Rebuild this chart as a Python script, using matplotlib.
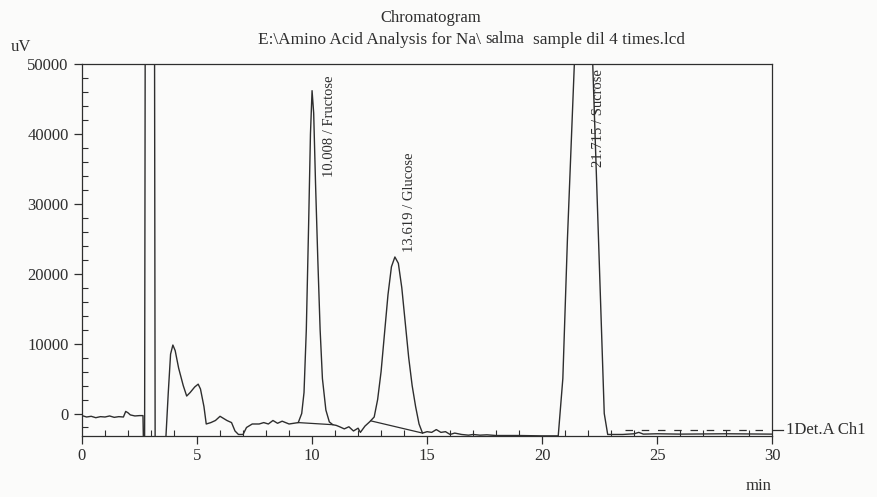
import numpy as np
import matplotlib.pyplot as plt

# detector trace (min, uV)
t = [0.0, 0.2, 0.4, 0.6, 0.8, 1.0, 1.2, 1.4, 1.6, 1.8, 1.9, 2.0, 2.1, 2.3, 2.5, 2.65,
     2.68, 2.72, 2.75, 3.15, 3.18, 3.6, 3.65, 3.75, 3.85, 3.95, 4.05, 4.2, 4.4, 4.55,
     4.7, 4.9, 5.05, 5.15, 5.3, 5.4, 5.6, 5.8, 6.0, 6.15, 6.3, 6.5, 6.65, 6.8, 7.0,
     7.15, 7.4, 7.7, 7.9, 8.1, 8.3, 8.5, 8.7, 9.0, 9.2, 9.4, 9.55, 9.65, 9.75, 9.85,
     9.93, 10.0, 10.07, 10.15, 10.25, 10.35, 10.45, 10.6, 10.75, 10.9, 11.05, 11.2,
     11.4, 11.6, 11.8, 12.0, 12.1, 12.3, 12.5, 12.7, 12.85, 13.0, 13.15, 13.3, 13.45,
     13.6, 13.75, 13.9, 14.05, 14.2, 14.35, 14.5, 14.65, 14.8, 15.0, 15.2, 15.4, 15.6,
     15.8, 16.0, 16.2, 16.5, 16.8, 17.0, 17.3, 17.6, 18.0, 19.0, 20.0, 20.7, 20.9,
     21.1, 21.4, 22.2, 22.5, 22.7, 22.85, 23.5, 24.0, 24.2, 24.4, 25.0, 26.0, 28.0, 30.0]
uv = [-300, -500, -400, -600, -450, -500, -350, -550, -450, -500, 300, 100, -200, -350,
      -300, -300, -6000, -6000, 60000, 60000, -6000, -6000, -3200, 3000, 8500, 9800,
      9000, 6500, 4000, 2500, 3000, 3800, 4200, 3500, 1000, -1500, -1300, -1000, -400,
      -700, -1000, -1300, -2500, -3000, -3000, -2000, -1500, -1500, -1300, -1500, -1000,
      -1400, -1100, -1500, -1400, -1300, 0, 3000, 12000, 27000, 40000, 46200, 43000,
      33000, 22000, 12000, 5000, 500, -1200, -1600, -1700, -1900, -2200, -1900, -2500,
      -2100, -2700, -1800, -1200, -500, 2000, 6000, 11500, 17000, 21000, 22400, 21500,
      18000, 13000, 8000, 4000, 1000, -1500, -2800, -2600, -2700, -2300, -2700, -2600,
      -3000, -2800, -3000, -3100, -3000, -3100, -3050, -3150, -3150, -3200, -3200, 5000,
      25000, 50000, 50000, 20000, 0, -3000, -3000, -2900, -2700, -2950, -2900, -2950,
      -2900, -2950]

# integration baselines
base_t = [[9.4, 10.9], [12.55, 14.8]]
base_uv = [[-1300, -1600], [-1050, -2800]]

peak_rt = [10.008, 13.619, 21.715]
peak_name = ['Fructose', 'Glucose', 'Sucrose']
label_pos = [(10.75, 48300), (14.25, 37300), (22.45, 49300)]

plt.rcParams['font.family'] = ['Liberation Serif', 'DejaVu Serif']
fig = plt.figure(figsize=(8.77, 4.97), dpi=100, facecolor='#fbfbfa')
ax = fig.add_axes([0.0935, 0.123, 0.787, 0.748])
ax.set_facecolor('#fbfbfa')
col = '#2e2e2e'

ax.plot(t, uv, color=col, lw=1.0)
for bt, bu in zip(base_t, base_uv):
	ax.plot(bt, bu, color=col, lw=0.9)
ax.plot([23.6, 29.6], [-2400, -2400], color=col, lw=0.9, ls=(0, (6, 7)))

for rt, name, pos in zip(peak_rt, peak_name, label_pos):
	ax.text(pos[0], pos[1], '%.3f / %s' % (rt, name), rotation=90,
	        ha='center', va='top', fontsize=10.5, color=col)

ax.set_xlim(0, 30)
ax.set_ylim(-3200, 50000)
ax.set_xticks([0, 5, 10, 15, 20, 25, 30])
ax.set_xticks(np.arange(0, 31, 1), minor=True)
ax.set_yticks([0, 10000, 20000, 30000, 40000, 50000])
ax.set_yticks(np.arange(-2000, 50001, 2000), minor=True)
ax.tick_params(axis='both', which='major', direction='out', length=6, width=0.9,
               labelsize=12, colors=col)
ax.tick_params(axis='x', which='minor', direction='in', length=4, width=0.8, colors=col)
ax.tick_params(axis='y', which='minor', direction='in', length=4, width=0.8, colors=col)
ax.tick_params(axis='x', which='major', pad=3)
for s in ax.spines.values():
	s.set_color(col)
	s.set_linewidth(0.9)

# channel marker on the right
ax.plot([30.05, 30.45], [-2400, -2400], color=col, lw=0.9, clip_on=False)
ax.text(30.6, -2400, '1Det.A Ch1', ha='left', va='center', fontsize=12, color=col)

fig.text(0.491, 0.963, 'Chromatogram', ha='center', va='center', fontsize=12, color=col)
fig.text(0.294, 0.919, 'E:\\Amino Acid Analysis for Na\\', ha='left', va='center',
         fontsize=12.4, color=col)
fig.text(0.553, 0.921, 'salma', ha='left', va='center', fontsize=12, color=col)
fig.text(0.608, 0.919, 'sample dil 4 times.lcd', ha='left', va='center',
         fontsize=12.4, color=col)
fig.text(0.012, 0.905, 'uV', ha='left', va='center', fontsize=12, color=col)
fig.text(0.85, 0.022, 'min', ha='left', va='center', fontsize=12, color=col)

fig.savefig('out.png', dpi=100, facecolor=fig.get_facecolor())
